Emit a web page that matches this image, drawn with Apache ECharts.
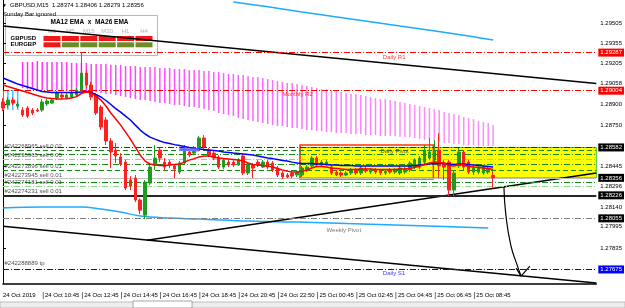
<!DOCTYPE html>
<html><head><meta charset="utf-8">
<script src="https://cdn.jsdelivr.net/npm/echarts@6/dist/echarts.min.js"></script>
<style>html,body{margin:0;padding:0;background:#fff}#c{width:625px;height:308px}</style>
</head><body><div id="c"></div>
<script>
const symbol = 'GBPUSD', timeframe = 'M15';
const xTickBars = [0,8,16,24,32,40,48,56,64,72,80,88,96];
const xTickLabels = ['24 Oct 2019','24 Oct 10:45','24 Oct 12:45','24 Oct 14:45','24 Oct 16:45','24 Oct 18:45','24 Oct 20:45','24 Oct 22:50','25 Oct 00:45','25 Oct 02:45','25 Oct 04:45','25 Oct 06:45','25 Oct 08:45'];
const yTickValues = [1.29505,1.29355,1.29205,1.29058,1.28900,1.28750,1.28445,1.28296,1.28140,1.27995,1.27835];

const opens = [1.28920,1.28897,1.28934,1.28890,1.28860,1.28875,1.28860,1.28860,1.28860,1.28905,
1.28912,1.28949,1.28972,1.28949,1.28957,1.28972,1.29009,1.29135,1.29046,1.28972,
1.28882,1.28786,1.28630,1.28563,1.28511,1.28473,1.28340,1.28354,1.28191,1.28079,
1.28317,1.28451,1.28563,1.28473,1.28473,1.28444,1.28399,1.28466,1.28548,1.28540,
1.28577,1.28652,1.28563,1.28540,1.28511,1.28436,1.28473,1.28473,1.28451,1.28518,
1.28392,1.28451,1.28473,1.28436,1.28473,1.28466,1.28429,1.28392,1.28377,1.28392,
1.28377,1.28377,1.28414,1.28444,1.28503,1.28451,1.28459,1.28436,1.28399,1.28392,
1.28377,1.28392,1.28414,1.28392,1.28421,1.28399,1.28414,1.28406,1.28392,1.28414,
1.28399,1.28392,1.28399,1.28414,1.28436,1.28436,1.28473,1.28503,1.28488,1.28563,
1.28466,1.28473,1.28265,1.28444,1.28548,1.28473,1.28399,1.28399,1.28392,1.28399,
1.28374];
const closes = [1.28875,1.28934,1.28912,1.28905,1.28823,1.28815,1.28838,1.28853,1.28920,1.28927,
1.28934,1.28986,1.28957,1.28972,1.28986,1.29009,1.29135,1.29046,1.28957,1.28838,
1.28734,1.28630,1.28548,1.28518,1.28459,1.28280,1.28295,1.28191,1.28116,1.28325,
1.28436,1.28503,1.28503,1.28436,1.28451,1.28421,1.28466,1.28577,1.28525,1.28577,
1.28652,1.28585,1.28525,1.28503,1.28436,1.28488,1.28451,1.28451,1.28488,1.28392,
1.28451,1.28429,1.28451,1.28473,1.28436,1.28414,1.28377,1.28362,1.28362,1.28369,
1.28399,1.28429,1.28436,1.28503,1.28451,1.28473,1.28473,1.28392,1.28377,1.28377,
1.28392,1.28414,1.28392,1.28429,1.28406,1.28414,1.28399,1.28392,1.28406,1.28399,
1.28414,1.28429,1.28421,1.28466,1.28488,1.28503,1.28563,1.28548,1.28563,1.28444,
1.28436,1.28265,1.28392,1.28548,1.28436,1.28399,1.28429,1.28429,1.28436,1.28421,
1.28356];
const lows = [1.28853,1.28875,1.28897,1.28875,1.28808,1.28801,1.28823,1.28845,1.28845,1.28890,
1.28905,1.28934,1.28942,1.28942,1.28949,1.28964,1.29001,1.29024,1.28934,1.28823,
1.28711,1.28600,1.28429,1.28466,1.28444,1.28265,1.28265,1.28176,1.28087,1.28050,
1.28302,1.28414,1.28473,1.28414,1.28429,1.28354,1.28384,1.28451,1.28511,1.28525,
1.28563,1.28570,1.28511,1.28488,1.28421,1.28421,1.28436,1.28436,1.28444,1.28377,
1.28377,1.28354,1.28436,1.28429,1.28421,1.28399,1.28362,1.28347,1.28354,1.28354,
1.28362,1.28362,1.28399,1.28429,1.28436,1.28436,1.28444,1.28377,1.28369,1.28362,
1.28369,1.28377,1.28377,1.28377,1.28392,1.28384,1.28384,1.28377,1.28377,1.28384,
1.28384,1.28377,1.28384,1.28399,1.28421,1.28421,1.28459,1.28488,1.28473,1.28354,
1.28340,1.28220,1.28220,1.28429,1.28414,1.28384,1.28377,1.28384,1.28377,1.28384,
1.28279];
const highs = [1.28949,1.28957,1.28957,1.28927,1.28882,1.28890,1.28875,1.28875,1.28942,1.28942,
1.28949,1.29001,1.28986,1.28986,1.29001,1.29024,1.29291,1.29157,1.29068,1.28986,
1.28897,1.28808,1.28652,1.28615,1.28540,1.28488,1.28369,1.28377,1.28205,1.28340,
1.28451,1.28600,1.28577,1.28503,1.28488,1.28451,1.28481,1.28600,1.28563,1.28592,
1.28667,1.28674,1.28577,1.28555,1.28525,1.28503,1.28488,1.28488,1.28503,1.28540,
1.28466,1.28466,1.28488,1.28488,1.28488,1.28481,1.28444,1.28406,1.28392,1.28399,
1.28414,1.28444,1.28451,1.28518,1.28518,1.28488,1.28488,1.28451,1.28414,1.28406,
1.28406,1.28429,1.28429,1.28444,1.28436,1.28429,1.28429,1.28421,1.28421,1.28429,
1.28429,1.28444,1.28436,1.28481,1.28503,1.28518,1.28600,1.28652,1.28637,1.28689,
1.28488,1.28488,1.28414,1.28577,1.28563,1.28488,1.28444,1.28444,1.28451,1.28444,
1.28406];

const ema12 = [1.29046,1.29035,1.29024,1.29013,1.29001,1.28990,1.28979,1.28968,1.28957,1.28949,
1.28946,1.28943,1.28942,1.28944,1.28949,1.28960,1.28983,1.28994,1.28986,1.28964,
1.28934,1.28890,1.28838,1.28793,1.28748,1.28696,1.28644,1.28585,1.28525,1.28481,
1.28459,1.28451,1.28447,1.28447,1.28451,1.28455,1.28459,1.28473,1.28488,1.28499,
1.28511,1.28518,1.28518,1.28511,1.28503,1.28499,1.28496,1.28492,1.28488,1.28481,
1.28466,1.28455,1.28451,1.28447,1.28444,1.28436,1.28425,1.28414,1.28406,1.28399,
1.28399,1.28406,1.28414,1.28429,1.28440,1.28440,1.28436,1.28429,1.28425,1.28421,
1.28418,1.28418,1.28418,1.28421,1.28421,1.28421,1.28418,1.28418,1.28418,1.28418,
1.28418,1.28421,1.28421,1.28425,1.28433,1.28444,1.28455,1.28466,1.28473,1.28470,
1.28466,1.28447,1.28444,1.28455,1.28451,1.28440,1.28436,1.28433,1.28429,1.28425,
1.28418];
const ema26 = [1.29098,1.29083,1.29068,1.29053,1.29042,1.29031,1.29020,1.29009,1.28998,1.28994,
1.28990,1.28990,1.28990,1.28990,1.28990,1.28990,1.28994,1.28998,1.28990,1.28975,
1.28957,1.28931,1.28901,1.28871,1.28845,1.28815,1.28786,1.28748,1.28711,1.28682,
1.28659,1.28644,1.28630,1.28618,1.28611,1.28603,1.28596,1.28589,1.28581,1.28574,
1.28570,1.28566,1.28563,1.28559,1.28555,1.28548,1.28544,1.28540,1.28537,1.28533,
1.28529,1.28525,1.28518,1.28511,1.28503,1.28499,1.28492,1.28485,1.28481,1.28473,
1.28466,1.28462,1.28462,1.28462,1.28459,1.28459,1.28455,1.28451,1.28451,1.28447,
1.28447,1.28447,1.28444,1.28444,1.28444,1.28444,1.28444,1.28444,1.28444,1.28444,
1.28444,1.28444,1.28444,1.28444,1.28447,1.28451,1.28455,1.28459,1.28462,1.28462,
1.28462,1.28459,1.28455,1.28459,1.28459,1.28455,1.28451,1.28447,1.28444,1.28440,
1.28436];
const crossBars = [36,37,38,39,40];
const crossMark = [1.28566,1.28566,1.28565,1.28564,1.28563];

const histStartBar = 4;
const histTop = [1.29217,1.29217,1.29217,1.29224,1.29217,1.29217,1.29217,1.29217,1.29217,1.29217,
1.29210,1.29210,1.29210,1.29210,1.29202,1.29202,1.29202,1.29202,1.29195,1.29195,
1.29195,1.29187,1.29187,1.29187,1.29180,1.29180,1.29180,1.29180,1.29172,1.29172,
1.29172,1.29165,1.29165,1.29165,1.29157,1.29157,1.29157,1.29150,1.29150,1.29143,
1.29143,1.29135,1.29128,1.29128,1.29120,1.29120,1.29113,1.29105,1.29105,1.29098,
1.29091,1.29083,1.29076,1.29068,1.29061,1.29061,1.29053,1.29046,1.29039,1.29031,
1.29024,1.29016,1.29016,1.29009,1.29001,1.28994,1.28986,1.28979,1.28979,1.28972,
1.28964,1.28957,1.28949,1.28942,1.28942,1.28934,1.28927,1.28920,1.28912,1.28905,
1.28897,1.28890,1.28882,1.28875,1.28867,1.28860,1.28845,1.28838,1.28830,1.28823,
1.28808,1.28801,1.28793,1.28778,1.28771,1.28763,1.28748];
const histBottom = [1.29024,1.29016,1.29016,1.29016,1.29009,1.29009,1.29009,1.29009,1.29009,1.29009,
1.29009,1.29001,1.29001,1.29001,1.28994,1.28994,1.28986,1.28979,1.28979,1.28972,
1.28964,1.28957,1.28949,1.28942,1.28934,1.28934,1.28927,1.28920,1.28912,1.28912,
1.28905,1.28897,1.28897,1.28890,1.28882,1.28882,1.28875,1.28867,1.28860,1.28853,
1.28838,1.28830,1.28823,1.28815,1.28801,1.28793,1.28786,1.28778,1.28771,1.28763,
1.28756,1.28748,1.28741,1.28741,1.28734,1.28726,1.28726,1.28719,1.28711,1.28711,
1.28704,1.28704,1.28696,1.28696,1.28689,1.28689,1.28689,1.28682,1.28682,1.28682,
1.28674,1.28674,1.28674,1.28667,1.28667,1.28667,1.28667,1.28659,1.28659,1.28659,
1.28652,1.28644,1.28637,1.28637,1.28630,1.28622,1.28615,1.28615,1.28607,1.28607,
1.28600,1.28600,1.28600,1.28592,1.28592,1.28592,1.28592];
const cyanHistTop = [1.29009,1.29009,1.29009,1.29009];
const cyanHistBottom = [1.28860,1.28860,1.28860,1.28860];

const upperBandBars = [47,53,61,71,81,91,100];
const upperBand = [1.29663,1.29633,1.29589,1.29537,1.29485,1.29433,1.29381];
const lowerBandBars = [0,8,16,20,24,28,34,40,50,60,70,80,90,99];
const lowerBand = [1.28131,1.28139,1.28139,1.28124,1.28102,1.28072,1.28057,1.28050,1.28035,1.28027,1.28016,1.28005,1.27994,1.27983];

const levelPrices = [1.29287,1.29004,1.28582,1.28560,1.28528,1.28494,1.28454,1.28414,1.28356,1.28325,1.28290,1.28226,1.28055,1.27675,1.27574];
const levelKinds = ['r1','r2','orderTop','dash','order','light','order','dash','bid','order','light','thick','weekly','s1','trendEnd'];

const trendUpperBars = [0,121.05], trendUpper = [1.29485,1.29058];
const trendLowerBars = [0,121.05], trendLower = [1.27997,1.27574];
const trendRiseBars = [29.35,121.05], trendRise = [1.27893,1.28392];
const arrowBars = [102.2,102.6,103.6,104.9,105.7];
const arrowPrices = [1.28288,1.28079,1.27856,1.27707,1.27626];
const arrowHeadBars = [104.7,105.7,107.5];
const arrowHeadPrices = [1.27685,1.27626,1.27700];

const zoneBox = [60.6,1.28582,121.05,1.28356];
const sessionBox = [60.6,1.28600,87.8,1.28347];

const levelTexts = ['Daily R1','Monthly R2','Daily Pivot','Weekly Pivot','Daily S1'];
const levelTextBars = [77.5,57,77,66,77.5];
const levelTextPrices = [1.29254,1.28979,1.28555,1.27968,1.27648];
const levelTextColors = ['#ff0000','#ff0000','#333333','#555555','#0000ff'];

const orderTexts = ['#242268965 sell 0.02','#242295965 sell 0.05','#242273896 sell 0.01','#242273945 sell 0.01','#242274181 sell 0.01','#242274231 sell 0.01','#242288889 tp'];
const orderTextPrices = [1.28593,1.28526,1.28440,1.28374,1.28321,1.28255,1.27723];

const panelTitle = 'MA12 EMA  x  MA26 EMA';
const panelTimeframes = ['M1','M5','M15','M30','H1','H4'];
const panelPairs = ['GBPUSD','EURGBP'];
const panelSignals = [[-1,-1,-1,-1,-1,-1],[-1,1,1,1,1,1]];

const FONT = 'Liberation Sans, Arial, sans-serif';
const xMax = 121.05, yMin = 1.27567, yMax = 1.29678;
const dd = [6,2,1,2];
const levelStyles = {
  r1:{color:'#ff0000',type:dd,width:1,bg:'#ff0000'},
  r2:{color:'#ff0000',type:dd,width:1,bg:'#ff0000'},
  orderTop:{color:'#333333',type:dd,width:1,bg:'#000000'},
  dash:{color:'#138a13',type:[5,3],width:1},
  order:{color:'#138a13',type:dd,width:1},
  light:{color:'#8fd48f',type:dd,width:1},
  bid:{color:'#c0c0c0',type:'solid',width:1,bg:'#000000'},
  thick:{color:'#262626',type:'solid',width:2,bg:'#000000'},
  weekly:{color:'#808080',type:dd,width:1,bg:'#000000'},
  s1:{color:'#0000ff',type:dd,width:1,bg:'#0000ff'},
  trendEnd:{color:'#000000',type:'solid',width:1,bg:'#000000',hide:true}
};

const pair = (xs, ys) => xs.map((x, k) => [x, ys[k]]);
const candleData = opens.map((o, i) => [i, o, closes[i], lows[i], highs[i]]);
const histData = histTop.map((t, k) => [histStartBar + k, t, histBottom[k]]);
const cyanHistData = cyanHistTop.map((t, k) => [k, t, cyanHistBottom[k]]);

function mix(a, b, t) {
  const pa = [1,3,5].map(i => parseInt(a.substr(i,2),16)), pb = [1,3,5].map(i => parseInt(b.substr(i,2),16));
  return 'rgb(' + pa.map((v,i)=>Math.round(v + (pb[i]-v)*t)).join(',') + ')';
}
function vLineRender(c1, c2) {
  return function (params, api) {
    const a = api.coord([api.value(0), api.value(1)]);
    const b = api.coord([api.value(0), api.value(2)]);
    const t = c2 ? Math.min(1, params.dataIndex / 80) : 0;
    return {type:'line', shape:{x1:a[0], y1:a[1], x2:b[0], y2:b[1]}, style:{stroke: c2 ? mix(c1, c2, t) : c1, lineWidth:1.5}};
  };
}
const boxStyles = [
  {fill:'#ffff00', stroke:'#3cc83c', lineWidth:1},
  {fill:'none', stroke:'#ff3300', lineWidth:1.5}
];

const markLineData = levelPrices.map((p, k) => {
  const s = levelStyles[levelKinds[k]];
  return {
    yAxis: p,
    lineStyle: {color:s.color, width:s.width, type:s.type, opacity: s.hide ? 0 : 1},
    label: s.bg ? {show:true, position:'end', distance:2, formatter:p.toFixed(5), backgroundColor:s.bg,
      color:'#ffffff', fontSize:6, fontFamily:FONT, padding:[1,2,0,2], lineHeight:7} : {show:false}
  };
});

const last = opens.length - 1;
const titleText = symbol + ',' + timeframe + '  ' + [opens[last], highs[last], lows[last], closes[last]].map(v => v.toFixed(5)).join(' ');

const panelChildren = [
  {type:'rect', shape:{x:0, y:0, width:152, height:40}, style:{fill:'#ffffff', stroke:'#b8b8b8', lineWidth:1}},
  {type:'text', x:84, y:7, style:{text:panelTitle, font:'bold 6.5px ' + FONT, fill:'#000', align:'center', verticalAlign:'middle'}}
];
panelTimeframes.forEach((tf, j) => {
  panelChildren.push({type:'text', x:46.5 + j*18.4, y:16, style:{text:tf, font:'6px ' + FONT, fill:'#b0b0b0', align:'center', verticalAlign:'middle'}});
});
panelPairs.forEach((pr, r) => {
  panelChildren.push({type:'text', x:5, y:22.7 + r*6.6, style:{text:pr, font:'bold 6px ' + FONT, fill:'#000', align:'left', verticalAlign:'middle'}});
  panelSignals[r].forEach((s, j) => {
    panelChildren.push({type:'rect', shape:{x:38 + j*18.4, y:20.5 + r*6.3, width:17, height:5}, style:{fill: s < 0 ? '#f01818' : '#6e8c26'}});
  });
});

const tabs = [];
[0,72,133,192,248,300,350,407,482,538,592].forEach((x) => {
  tabs.push({type:'line', shape:{x1:x, y1:303, x2:x, y2:308}, style:{stroke:'#a0a0a0', lineWidth:1}});
});

const option = {
  animation: false,
  backgroundColor: '#ffffff',
  grid: {left:0, right:27, top:0, bottom:24, containLabel:false},
  xAxis: {
    type:'value', min:0, max:xMax,
    axisLine:{show:true, onZero:false, lineStyle:{color:'#000', width:1.5}},
    axisTick:{show:false}, splitLine:{show:false},
    axisLabel:{customValues:xTickBars, align:'left', margin:8, fontSize:6, fontFamily:FONT, color:'#000',
      formatter: v => { const k = xTickBars.indexOf(v); if (k < 0) return ''; return (k ? '{t||}' : '') + xTickLabels[k]; },
      rich:{t:{fontSize:7, color:'#000', padding:[0,1,0,0]}}}
  },
  yAxis: {
    type:'value', position:'right', min:yMin, max:yMax,
    axisLine:{show:true, lineStyle:{color:'#000', width:1}},
    axisTick:{show:true, inside:false, length:3, customValues:yTickValues, lineStyle:{color:'#000'}},
    splitLine:{show:false},
    axisLabel:{customValues:yTickValues, margin:4, fontSize:6, fontFamily:FONT, color:'#000', formatter: v => v.toFixed(5)}
  },
  graphic: [
    {type:'rect', shape:{x:0, y:302, width:625, height:6}, style:{fill:'#eeeeee', stroke:'#b0b0b0', lineWidth:0.8}, z:50},
    {type:'rect', shape:{x:133, y:301, width:59, height:7}, style:{fill:'#ffffff', stroke:'#909090', lineWidth:0.8}, z:51},
    {type:'group', z:60, children: tabs},
    {type:'group', left:5, top:15, z:100, children: panelChildren},
    {type:'text', left:2, top:3, z:101, style:{text:'▼', font:'5px ' + FONT, fill:'#000'}},
    {type:'text', left:10, top:2, z:101, style:{text:titleText, font:'6px ' + FONT, fill:'#000'}},
    {type:'text', left:3, top:11, z:101, style:{text:'Sunday Bar ignored', font:'6px ' + FONT, fill:'#000'}}
  ],
  series: [
    {type:'custom', name:'zones', z:0, clip:true, data:[zoneBox, sessionBox], encode:{x:[0,2], y:[1,3]},
      renderItem:(params, api) => {
        const a = api.coord([api.value(0), api.value(1)]);
        const b = api.coord([api.value(2), api.value(3)]);
        return {type:'rect', shape:{x:Math.min(a[0],b[0]), y:Math.min(a[1],b[1]), width:Math.abs(b[0]-a[0]), height:Math.abs(b[1]-a[1])}, style:boxStyles[params.dataIndex]};
      }},
    {type:'custom', name:'hist', z:1, clip:true, data:histData, encode:{x:0, y:[1,2]}, renderItem:vLineRender('#ff2eff', '#ff8cff')},
    {type:'custom', name:'histCyan', z:1, clip:true, data:cyanHistData, encode:{x:0, y:[1,2]}, renderItem:vLineRender('#3cc8ff')},
    {type:'line', name:'lowerBand', z:3, data:pair(lowerBandBars, lowerBand), smooth:0.4, symbol:'none',
      lineStyle:{color:'#1eaaff', width:1.5},
      markLine:{silent:true, symbol:['none','none'], animation:false, precision:5, data:markLineData}},
    {type:'line', name:'upperBand', z:3, data:pair(upperBandBars, upperBand), smooth:0.4, symbol:'none', lineStyle:{color:'#1eaaff', width:1.5}},
    {type:'line', z:4, data:pair(trendUpperBars, trendUpper), symbol:'none', lineStyle:{color:'#000', width:1.5}},
    {type:'line', z:4, data:pair(trendLowerBars, trendLower), symbol:'none', lineStyle:{color:'#000', width:1.5}},
    {type:'line', z:4, data:pair(trendRiseBars, trendRise), symbol:'none', lineStyle:{color:'#000', width:1.5}},
    {type:'candlestick', name:symbol, z:5, data:candleData, barWidth:3,
      itemStyle:{color:'#1f9c1f', color0:'#ff2020', borderColor:'#1f9c1f', borderColor0:'#ff2020', borderWidth:1}},
    {type:'line', name:'MA26 EMA', z:6, data:ema26.map((v,i)=>[i,v]), symbol:'none', lineStyle:{color:'#0000ff', width:1.5}},
    {type:'line', z:6, data:pair(crossBars, crossMark), symbol:'none', lineStyle:{color:'#6f6fff', width:3}},
    {type:'line', name:'MA12 EMA', z:6, data:ema12.map((v,i)=>[i,v]), symbol:'none', lineStyle:{color:'#ff0000', width:1.5}},
    {type:'line', z:7, data:pair(arrowBars, arrowPrices), smooth:0.5, symbol:'none', lineStyle:{color:'#000', width:1.2}},
    {type:'line', z:7, data:pair(arrowHeadBars, arrowHeadPrices), symbol:'none', lineStyle:{color:'#000', width:1.2}},
    {type:'scatter', z:8, symbolSize:0, silent:true,
      data: levelTexts.map((t,k)=>({name:t, value:[levelTextBars[k], levelTextPrices[k]], label:{color:levelTextColors[k]}})),
      label:{show:true, position:'right', distance:0, formatter:p=>p.name, fontSize:6, fontFamily:FONT}},
    {type:'scatter', z:8, symbolSize:0, silent:true,
      data: orderTexts.map((t,k)=>({name:t, value:[0.3, orderTextPrices[k]]})),
      label:{show:true, position:'right', distance:0, formatter:p=>p.name, fontSize:6, fontFamily:FONT, color:'#1a1a1a'}}
  ]
};
const chart = echarts.init(document.getElementById('c'));
chart.setOption(option);
</script>
</body></html>
